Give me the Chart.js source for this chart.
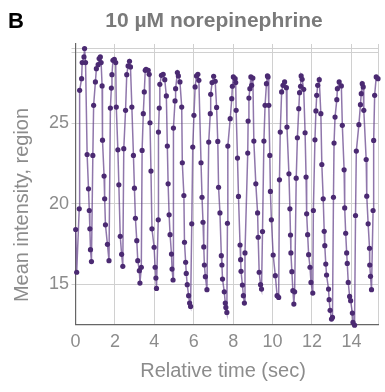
<!DOCTYPE html>
<html>
<head>
<meta charset="utf-8">
<script src="https://cdn.jsdelivr.net/npm/chart.js@4.4.0/dist/chart.umd.min.js"></script>
<style>
  html, body { margin: 0; padding: 0; background: #fff; }
  #wrap { position: relative; width: 385px; height: 392px; }
</style>
</head>
<body>
<div id="wrap"><canvas id="chart" width="385" height="392"></canvas></div>
<script>
// values, one cycle per line
const timeSec = [
  0.01, 0.06, 0.19, 0.21, 0.31, 0.34, 0.43, 0.46, 0.51, 0.59, 0.66, 0.70, 0.73, 0.76, 0.81,
  0.88, 0.92, 1.01, 1.06, 1.15, 1.20, 1.26, 1.30, 1.35, 1.37, 1.45, 1.48, 1.52, 1.62, 1.70,
  1.77, 1.82, 1.85, 1.90, 1.97, 2.04, 2.07, 2.15, 2.20, 2.27, 2.34, 2.40,
  2.45, 2.54, 2.60, 2.67, 2.74, 2.79, 2.86, 2.94, 2.99, 3.04, 3.11, 3.16, 3.24, 3.27, 3.34,
  3.38, 3.44, 3.49, 3.54, 3.58, 3.69, 3.74, 3.78, 3.83, 3.88, 3.99, 4.04, 4.08, 4.11,
  4.20, 4.21, 4.25, 4.28, 4.36, 4.45, 4.53, 4.61, 4.66, 4.70, 4.75, 4.80, 4.87, 4.90, 4.95,
  4.97, 5.05, 5.08, 5.17, 5.22, 5.30, 5.39, 5.42, 5.50, 5.53, 5.59, 5.62, 5.67, 5.74, 5.79, 5.84,
  5.90, 5.95, 6.01, 6.07, 6.14, 6.21, 6.26, 6.37, 6.42, 6.47, 6.51, 6.54, 6.59, 6.67,
  6.76, 6.84, 6.86, 6.93, 7.01, 7.09, 7.16, 7.22, 7.26, 7.33, 7.40, 7.43, 7.46, 7.55, 7.60, 7.63, 7.68,
  7.71, 7.73, 7.85, 7.93, 7.96, 8.01, 8.10, 8.13, 8.15, 8.22, 8.27, 8.35, 8.38, 8.40, 8.47, 8.52, 8.57,
  8.60, 8.74, 8.76, 8.80, 8.85, 8.90, 8.94, 9.00, 9.05, 9.15, 9.24, 9.27, 9.32, 9.39, 9.44,
  9.49, 9.56, 9.62, 9.69, 9.74, 9.77, 9.81, 9.86, 9.89, 9.94, 10.03, 10.14, 10.23, 10.31,
  10.35, 10.39, 10.46, 10.53, 10.61, 10.70, 10.73, 10.83, 10.88, 10.91, 10.93, 10.98, 11.03, 11.08, 11.12,
  11.20, 11.26, 11.33, 11.37, 11.42, 11.45, 11.50, 11.58, 11.65, 11.70, 11.73, 11.78, 11.83, 11.90, 11.95, 12.04,
  12.07, 12.15, 12.20, 12.24, 12.29, 12.37, 12.45, 12.50, 12.57, 12.62, 12.65, 12.70, 12.74, 12.84, 12.87, 12.92, 12.99, 13.04,
  13.09, 13.12, 13.17, 13.26, 13.29, 13.38, 13.49, 13.54, 13.63, 13.66, 13.71, 13.76, 13.79, 13.84, 13.91, 13.96, 14.05, 14.08, 14.16,
  14.21, 14.25, 14.38, 14.46, 14.50, 14.55, 14.60, 14.63, 14.75, 14.78, 14.85, 14.92, 14.93, 14.97, 15.02,
  15.10, 15.13, 15.18, 15.26, 15.35, 15.41, 15.46
];
const intensity = [
  18.40, 15.75, 19.68, 27.03, 27.75, 28.75, 29.10, 29.62, 28.75, 23.05, 20.92, 19.58, 18.44, 17.15, 16.41,
  22.99, 26.10, 27.55, 28.37, 28.62, 29.00, 29.10, 28.75, 27.30, 23.94, 21.71, 20.30, 18.69, 17.48, 16.47,
  25.93, 27.17, 28.00, 28.89, 28.95, 28.75, 25.99, 23.34, 21.17, 17.98, 16.86, 16.12,
  23.41, 25.79, 28.00, 28.54, 28.83, 28.48, 25.99, 22.99, 20.96, 19.10, 17.71, 16.47, 15.85, 15.08, 16.06,
  23.30, 25.58, 26.93, 28.27, 28.33, 28.27, 28.02, 25.02, 22.02, 18.44, 17.30, 16.06, 15.39, 14.75,
  19.00, 24.44, 25.93, 27.40, 27.96, 28.02, 27.69, 26.68, 23.57, 21.23, 19.31, 18.08, 16.88, 15.95, 15.27,
  24.69, 26.37, 27.13, 28.13, 27.92, 27.55, 25.99, 22.54, 20.51, 17.61, 16.37, 15.68, 14.98, 14.30, 13.84, 13.63,
  18.75, 23.51, 25.48, 27.24, 27.92, 28.02, 27.65, 22.54, 20.40, 18.85, 17.32, 16.20, 15.48, 14.67,
  23.82, 25.58, 26.78, 27.51, 27.90, 27.59, 25.97, 23.86, 21.02, 19.43, 16.78, 16.20, 15.33, 14.54, 13.84, 13.57, 13.26,
  18.79, 23.57, 25.27, 26.51, 27.28, 27.86, 27.75, 27.51, 25.79, 22.83, 20.45, 17.44, 16.53, 15.81, 14.96, 14.30, 13.84,
  16.95, 23.14, 25.12, 26.55, 27.13, 27.86, 27.34, 27.79, 23.88, 21.23, 19.43, 17.92, 15.75, 14.98, 14.71,
  18.27, 23.88, 26.10, 27.44, 27.92, 27.86, 26.10, 22.99, 20.76, 19.00, 16.82, 15.54, 14.30, 14.19,
  21.48, 24.44, 26.93, 27.34, 27.55, 27.19, 24.75, 21.85, 19.68, 18.06, 16.95, 15.79, 14.61, 13.78, 14.54,
  21.58, 24.09, 25.89, 26.88, 27.28, 27.92, 27.71, 27.09, 24.40, 21.65, 19.37, 18.08, 16.84, 16.06, 15.12, 14.46,
  19.58, 23.96, 25.75, 26.72, 27.34, 27.69, 25.58, 22.43, 20.30, 18.29, 17.40, 16.26, 15.58, 14.71, 14.05, 13.39, 12.85, 12.95,
  20.40, 23.76, 25.37, 26.45, 27.13, 27.55, 27.30, 24.86, 22.10, 19.74, 18.17, 16.95, 16.30, 15.12, 14.25, 13.99, 13.22, 12.64, 12.47,
  19.27, 23.26, 24.90, 26.14, 26.82, 27.44, 27.24, 25.79, 22.74, 20.47, 18.75, 17.24, 16.20, 15.50, 14.67,
  19.58, 23.92, 26.72, 27.86, 27.75, 27.51, 26.10
];
const xTicks = [0, 2, 4, 6, 8, 10, 12, 14];
const yTicks = [15, 20, 25];
const xFrame = 15.35;          // right edge line
const yFrame = [29.35, 29.6];  // top edge lines

const panelLetter = 'B';
const chartTitle = '10 µM norepinephrine';
const xTitle = 'Relative time (sec)';
const yTitle = 'Mean intensity, region';

const FONT = '"Liberation Sans", Arial, sans-serif';
const GREY = '#8c8c8c';

// titles are drawn by hand so they sit where the figure has them
const textPlugin = {
  id: 'texts',
  afterDraw(chart) {
    const ctx = chart.ctx;
    ctx.save();
    ctx.textBaseline = 'alphabetic';
    ctx.fillStyle = '#000';
    ctx.font = 'bold 22px ' + FONT;
    ctx.textAlign = 'left';
    ctx.fillText(panelLetter, 8, 28);

    ctx.fillStyle = '#7a7a7a';
    ctx.font = 'bold 21px ' + FONT;
    ctx.textAlign = 'center';
    ctx.fillText(chartTitle, 214, 27);

    ctx.fillStyle = GREY;
    ctx.font = '20px ' + FONT;
    ctx.fillText(xTitle, 223, 377);

    ctx.translate(22, 205);
    ctx.rotate(-Math.PI / 2);
    ctx.textBaseline = 'middle';
    ctx.fillText(yTitle, 0, 0);
    ctx.restore();
  }
};

const points = timeSec.map((t, i) => ({ x: t, y: intensity[i] }));

new Chart(document.getElementById('chart'), {
  type: 'line',
  data: {
    datasets: [{
      data: points,
      borderColor: 'rgba(95,60,135,0.7)',
      borderWidth: 1.5,
      pointRadius: 2.6,
      pointBackgroundColor: '#4b2a72',
      pointBorderWidth: 0,
      tension: 0,
      clip: false
    }]
  },
  options: {
    responsive: false,
    animation: false,
    devicePixelRatio: 1,
    layout: { padding: { top: 44, right: 4, left: 0, bottom: 0 } },
    plugins: { legend: { display: false }, tooltip: { enabled: false } },
    scales: {
      x: {
        type: 'linear',
        min: 0,
        max: xFrame,
        afterBuildTicks: s => { s.ticks = xTicks.concat([xFrame]).map(v => ({ value: v })); },
        afterFit: s => { s.height = 67.3; },
        ticks: {
          callback: v => xTicks.includes(v) ? String(v) : '',
          font: { family: FONT, size: 18 },
          color: GREY,
          padding: 7,
          maxRotation: 0,
          autoSkip: false
        },
        grid: { color: '#d0d0d0', lineWidth: 1, drawTicks: false },
        border: { color: '#666', width: 1.2 }
      },
      y: {
        min: 12.5,
        max: 29.9,
        afterBuildTicks: s => { s.ticks = yTicks.concat(yFrame).map(v => ({ value: v })); },
        afterFit: s => { s.width = 75.5; },
        ticks: {
          callback: v => yTicks.includes(v) ? String(v) : '',
          font: { family: FONT, size: 18 },
          color: GREY,
          padding: 2.5
        },
        grid: { color: '#d0d0d0', lineWidth: 1, tickLength: 4 },
        border: { color: '#666', width: 1.2 }
      }
    }
  },
  plugins: [textPlugin]
});
</script>
</body>
</html>
